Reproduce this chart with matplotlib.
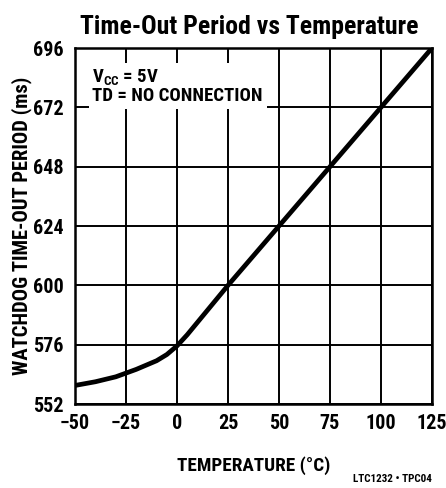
import matplotlib
matplotlib.use("Agg")
import matplotlib.pyplot as plt

plt.rcParams['font.family'] = ['Roboto Condensed', 'DejaVu Sans']
plt.rcParams['mathtext.fontset'] = 'custom'
plt.rcParams['mathtext.rm'] = 'Roboto Condensed:bold'
plt.rcParams['mathtext.bf'] = 'Roboto Condensed:bold'

temperature = [-50, -40, -30, -25, -20, -10, -5, 0, 5, 10, 25, 50, 75, 100, 125]
period_ms = [559.5, 561.0, 563.0, 564.5, 566.0, 569.5, 572.0, 575.5, 580.0, 585.0, 600.0, 624.0, 648.0, 672.0, 696.0]
x_ticks = [-50, -25, 0, 25, 50, 75, 100, 125]
x_labels = ["\u221250", "\u221225", "0", "25", "50", "75", "100", "125"]
y_ticks = [552, 576, 600, 624, 648, 672, 696]

fig = plt.figure(figsize=(4.46, 4.88), dpi=100)
ax = fig.add_axes([75 / 446, 1 - 404 / 488, 357 / 446, 356 / 488])
ax.plot(temperature, period_ms, color="black", lw=3.4, solid_capstyle="butt", zorder=3)
ax.set_xlim(-50, 125)
ax.set_ylim(552, 696)
ax.set_xticks(x_ticks)
ax.set_xticklabels(x_labels)
ax.set_yticks(y_ticks)
ax.grid(True, color="black", lw=1.4)
ax.set_axisbelow(True)
for s in ax.spines.values():
    s.set_linewidth(1.8)
ax.tick_params(length=0, labelsize=14.5)
ax.tick_params(axis="x", pad=7)
ax.tick_params(axis="y", pad=8)
for lab in ax.get_xticklabels() + ax.get_yticklabels():
    lab.set_fontweight("bold")

ax.text(-41.5, 680.5, "V$_{\\mathrm{CC}}$ = 5V\nTD = NO CONNECTION", fontsize=13.5,
        fontweight="bold", va="center", ha="left", linespacing=0.92,
        bbox=dict(facecolor="white", edgecolor="none", boxstyle="square,pad=0.2"), zorder=2)

ax.set_title("Time-Out Period vs Temperature", fontsize=18.5, fontweight="bold", pad=10, x=0.487)
ax.set_xlabel("TEMPERATURE (\u00b0C)", fontsize=13.8, fontweight="bold", labelpad=17)
ax.set_ylabel("WATCHDOG TIME-OUT PERIOD (ms)", fontsize=14.8, fontweight="bold", labelpad=1)
fig.text(432 / 446, 1 - 482 / 488, "LTC1232 \u2022 TPC04", fontsize=8, fontweight="bold", ha="right", va="baseline")

fig.savefig("out.png", dpi=100)
